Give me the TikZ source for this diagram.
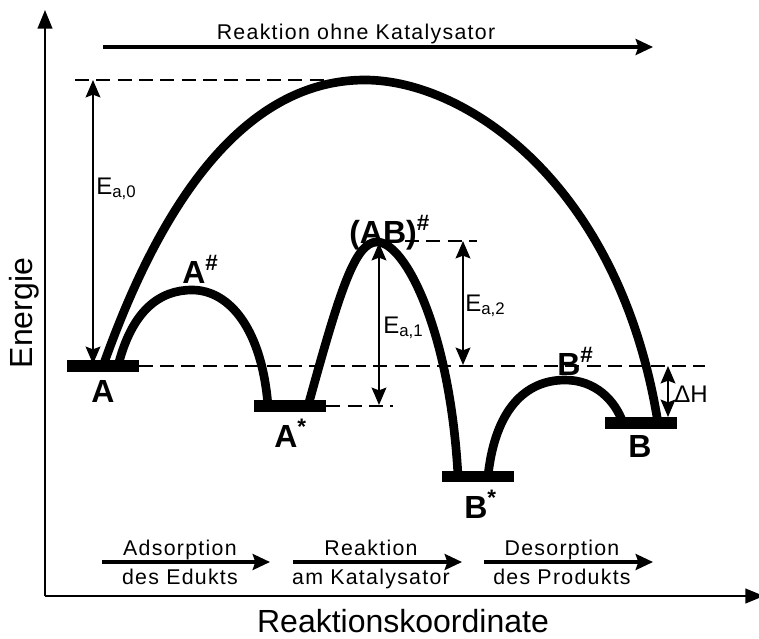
\documentclass[tikz,border=0pt]{standalone}
\usepackage{fontspec}
\setmainfont{Liberation Sans}
\newfontfamily\spacedfont[LetterSpace=6]{Liberation Sans}
\usepackage{tikz}
\usetikzlibrary{arrows.meta}
\tikzset{
    enlevel/.style={fill=black, minimum width=54pt, minimum height=8.8pt, inner sep=0pt},
    curve/.style={line width=6.5pt},
    guide/.style={line width=2.2pt, dash pattern=on 10.5pt off 5.5pt},
    earrow/.style={line width=1.6pt, {Stealth[length=13pt,width=11pt,inset=2pt]}-{Stealth[length=13pt,width=11pt,inset=2pt]}},
    axis/.style={line width=1.6pt, -{Triangle[length=14pt,width=11pt]}},
    phase/.style={line width=2.4pt, -{Stealth[length=13pt,width=12pt,inset=2pt]}},
    state/.style={inner sep=0pt, font=\fontsize{24}{26}\selectfont\bfseries},
    barrier/.style={inner sep=0pt, font=\fontsize{18}{20}\selectfont},
    caption/.style={inner sep=0pt, font=\spacedfont\fontsize{16}{18}\selectfont},
    title/.style={inner sep=0pt, font=\fontsize{24}{26}\selectfont}
}

\begin{document}
\begin{tikzpicture}[x=0.75pt, y=-0.75pt]
    \useasboundingbox (0,0) rectangle (759,638);

    \coordinate (O) at (45,596);
    \coordinate (ytip) at (45,10);
    \coordinate (xtip) at (764,596);
    \draw[axis] (O) -- (ytip);
    \draw[axis] (O) -- (xtip);
    \node[title, rotate=90] (energy) at (24,313) {Energie};
    \node[title, anchor=base] (coord) at (403,632) {Reaktionskoordinate};

    \node[enlevel] (lvA) at (102.5,366) {};
    \node[enlevel] (lvAs) at (290,406) {};
    \node[enlevel] (lvBs) at (478,476.5) {};
    \node[enlevel] (lvB) at (641,423) {};

    \coordinate (fA) at (103,366);
    \coordinate (top) at (365,80);
    \coordinate (fB) at (658,423);
    \coordinate (a1) at (118,366);
    \coordinate (pA) at (192,290);
    \coordinate (a2) at (268,406);
    \coordinate (ab1) at (308,406);
    \coordinate (pAB) at (377,242);
    \coordinate (ab2) at (458,476);
    \coordinate (b1) at (488,476);
    \coordinate (pB) at (565,380);
    \coordinate (b2) at (623,423);

    \coordinate (topL) at (75,80);
    \coordinate (guideA) at (705,366);
    \coordinate (guideAs) at (393,406);
    \coordinate (guideABl) at (405,241);
    \coordinate (guideABr) at (477,241);
    \draw[guide] (topL) -- (top);
    \draw[guide] (lvA.east) -- (guideA);
    \draw[guide] (lvAs.east) -- (guideAs);
    \draw[guide] (guideABl) -- (guideABr);

    \draw[curve] (fA) .. controls (146,245) and (225,80) .. (top)
        .. controls (465,80) and (619.5,182.5) .. (fB);
    \draw[curve] (a1) .. controls (132,310) and (160,290) .. (pA)
        .. controls (230,290) and (262,330) .. (a2);
    \draw[curve] (ab1) .. controls (340,290) and (355,242) .. (pAB)
        .. controls (405,242) and (450,330) .. (ab2);
    \draw[curve] (b1) .. controls (495,410) and (525,380) .. (pB)
        .. controls (595,380) and (615,400) .. (b2);

    \coordinate (ea0t) at (93,80);
    \coordinate (ea0b) at (93,364);
    \coordinate (ea1t) at (379,243);
    \coordinate (ea1b) at (379,405);
    \coordinate (ea2t) at (463,241);
    \coordinate (ea2b) at (463,365);
    \coordinate (dHt) at (668,366);
    \coordinate (dHb) at (668,417);
    \draw[earrow] (ea0t) -- (ea0b);
    \draw[earrow] (ea1t) -- (ea1b);
    \draw[earrow] (ea2t) -- (ea2b);
    \draw[earrow] (dHt) -- (dHb);
    \node[barrier, anchor=base west] (ea0) at (96,194) {E\textsubscript{a,0}};
    \node[barrier, anchor=base west] (ea1) at (383,333) {E\textsubscript{a,1}};
    \node[barrier, anchor=base west] (ea2) at (465,311) {E\textsubscript{a,2}};
    \node[inner sep=0pt, font=\fontsize{18}{20}\selectfont, anchor=base west] (dH) at (674,402) {ΔH};

    \node[state, anchor=base] (labA) at (103,402) {A};
    \node[state, anchor=base west] (labAt) at (182,283) {A\textsuperscript{\#}};
    \node[state, anchor=base west] (labAs) at (274,447) {A\textsuperscript{*}};
    \node[state, anchor=base west] (labABt) at (349,243) {(AB)\textsuperscript{\#}};
    \node[state, anchor=base west] (labBs) at (464,518) {B\textsuperscript{*}};
    \node[state, anchor=base west] (labBt) at (557,375) {B\textsuperscript{\#}};
    \node[state, anchor=base] (labB) at (640,457) {B};

    \coordinate (noCatL) at (103,47);
    \coordinate (noCatR) at (653,47);
    \draw[phase] (noCatL) -- (noCatR);
    \node[caption, anchor=base] (noCat) at (356,40) {Reaktion ohne Katalysator};

    \coordinate (adsL) at (102,562);
    \coordinate (adsR) at (270,562);
    \coordinate (reaL) at (293,562);
    \coordinate (reaR) at (462,562);
    \coordinate (desL) at (484,562);
    \coordinate (desR) at (653,562);
    \draw[phase] (adsL) -- (adsR);
    \draw[phase] (reaL) -- (reaR);
    \draw[phase] (desL) -- (desR);
    \node[caption, anchor=base] (ads1) at (180,555) {Adsorption};
    \node[caption, anchor=base] (ads2) at (180,584) {des Edukts};
    \node[caption, anchor=base] (rea1) at (371,555) {Reaktion};
    \node[caption, anchor=base] (rea2) at (371,584) {am Katalysator};
    \node[caption, anchor=base] (des1) at (562,555) {Desorption};
    \node[caption, anchor=base] (des2) at (562,584) {des Produkts};
\end{tikzpicture}
\end{document}
